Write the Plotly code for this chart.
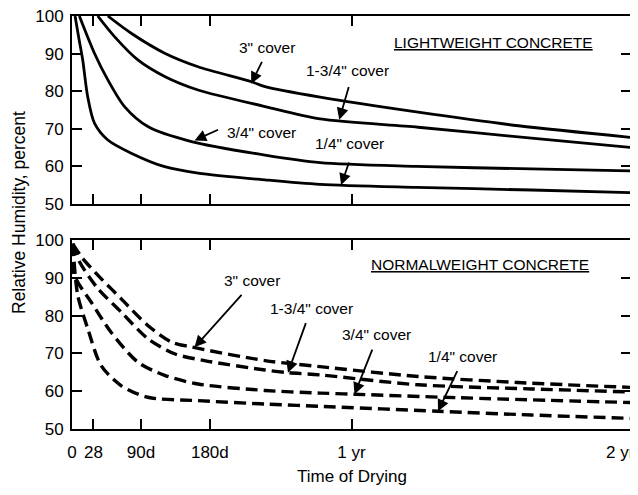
import plotly.graph_objects as go

# ---------------- data ----------------
tick_days = [0, 28, 90, 180, 365, 730]
tick_labels = ["0", "28", "90d", "180d", "1 yr", "2 yr"]
y_ticks = [50, 60, 70, 80, 90, 100]

# Lightweight concrete (solid)
lw_quarter_x = [4, 9, 14, 20.5, 29.3, 46.8, 77.3, 121, 164.6, 252, 324, 450, 600, 730]
lw_quarter_y = [100, 94, 88.3, 78.5, 71.5, 67, 63.5, 59.9, 58.2, 56.4, 55.2, 54.4, 53.7, 53]
lw_34_x = [9.6, 29.3, 46.8, 68.6, 99, 156, 252, 324, 450, 600, 730]
lw_34_y = [100, 90.1, 83, 75.9, 70.6, 66.6, 63, 61, 60, 59.3, 58.8]
lw_134_x = [33.6, 55.5, 86, 121, 164.6, 252, 324, 452, 600, 730]
lw_134_y = [100, 94.5, 88.3, 83.9, 80.3, 75.9, 72.6, 70.4, 67.5, 65]
lw_3_x = [46.8, 77.3, 121, 164.6, 234.5, 252, 324, 452, 583, 730]
lw_3_y = [100, 95.4, 90.1, 86.5, 82.5, 81.2, 78.4, 74.4, 70.8, 67.7]

# Normalweight concrete (dashed)
nw_quarter_x = [1, 7.5, 20.5, 38, 64, 99, 164.6, 252, 324, 478, 600, 730]
nw_quarter_y = [99, 85.4, 76.6, 66.8, 61.5, 58.4, 57.5, 56.6, 56, 54.7, 53.7, 52.8]
nw_34_x = [1, 3, 25, 51, 86, 121, 164.6, 252, 324, 369, 500, 730]
nw_34_y = [99, 90.7, 83.6, 75.6, 67.7, 64.2, 61.9, 60.2, 59.5, 59.2, 58.3, 57]
nw_134_x = [1, 10, 33.6, 64, 99, 134, 173, 252, 282, 324, 452, 600, 730]
nw_134_y = [99, 94.2, 87.2, 81, 73.9, 69.9, 68.1, 65.6, 64.9, 64.3, 61.7, 60.6, 59.8]
nw_3_x = [1, 14, 38, 64, 99, 130, 156, 252, 324, 452, 582, 730]
nw_3_y = [99, 95.1, 89.8, 84.5, 77.4, 73, 71.7, 68.1, 66.5, 63.9, 62.3, 61]

# ---------------- figure ----------------
fig = go.Figure()

solid = dict(color="black", width=2.8, shape="spline", smoothing=0.8)
dashed = dict(color="black", width=3.4, shape="spline", smoothing=0.8, dash="12px,6px")

for xs, ys in [(lw_quarter_x, lw_quarter_y), (lw_34_x, lw_34_y),
               (lw_134_x, lw_134_y), (lw_3_x, lw_3_y)]:
    fig.add_trace(go.Scatter(x=xs, y=ys, mode="lines", line=solid,
                             xaxis="x", yaxis="y", showlegend=False, cliponaxis=True))
for xs, ys in [(nw_quarter_x, nw_quarter_y), (nw_34_x, nw_34_y),
               (nw_134_x, nw_134_y), (nw_3_x, nw_3_y)]:
    fig.add_trace(go.Scatter(x=xs, y=ys, mode="lines", line=dashed,
                             xaxis="x2", yaxis="y2", showlegend=False, cliponaxis=True))

FONT = "Liberation Sans, Arial, Helvetica, sans-serif"

xaxis_common = dict(range=[0, 730], tickmode="array", tickvals=tick_days,
                    ticks="inside", ticklen=10, tickwidth=1.5, tickcolor="black",
                    showline=True, linecolor="black", linewidth=2, mirror="ticks",
                    showgrid=False, zeroline=False, automargin=False,
                    ticklabeloverflow="allow",
                    tickfont=dict(family=FONT, size=17, color="black"))
yaxis_common = dict(range=[50, 100], tickmode="array", tickvals=y_ticks,
                    ticks="inside", ticklen=10, tickwidth=1.5, tickcolor="black",
                    showline=True, linecolor="black", linewidth=2, mirror="ticks",
                    showgrid=False, zeroline=False, automargin=False,
                    ticklabelstandoff=3, ticklabeloverflow="allow",
                    tickfont=dict(family=FONT, size=17, color="black"))

# the last x tick label sits at the right page edge; it is drawn as an
# annotation so it can be nudged left of its tick
bottom_ticktext = tick_labels[:-1] + [""]

# page body has an 8px default margin: the figure is offset to compensate
fig.update_layout(
    width=630, height=479,
    margin=dict(l=64, r=7, t=8, b=58),
    paper_bgcolor="white", plot_bgcolor="white",
    font=dict(family=FONT, size=16, color="black"),
    xaxis=dict(**xaxis_common, anchor="y", showticklabels=False),
    yaxis=dict(**yaxis_common, domain=[0.545, 1.0], anchor="x"),
    xaxis2=dict(**xaxis_common, anchor="y2", ticktext=bottom_ticktext,
                ticklabelstandoff=7),
    yaxis2=dict(**yaxis_common, domain=[0.0, 0.4576], anchor="x2"),
)

anns = []
anns.append(dict(text=tick_labels[-1], xref="x2", yref="y2", x=tick_days[-1], y=50,
                 xanchor="center", yanchor="middle", xshift=-11, yshift=-23,
                 showarrow=False, font=dict(size=17)))
# Titles
anns.append(dict(text="Time of Drying", xref="paper", yref="paper", x=0.5, y=-0.116,
                 xanchor="center", yanchor="middle", showarrow=False,
                 font=dict(size=17)))
anns.append(dict(text="Relative Humidity, percent", xref="paper", yref="paper",
                 x=-0.0948, y=0.523, xanchor="center", yanchor="middle",
                 textangle=-90, showarrow=False, font=dict(size=17.5)))
# Panel labels
anns.append(dict(text="<u>LIGHTWEIGHT CONCRETE</u>", xref="x", yref="y", x=683, y=92.9,
                 xanchor="right", yanchor="middle", showarrow=False, font=dict(size=15.5)))
anns.append(dict(text="<u>NORMALWEIGHT CONCRETE</u>", xref="x2", yref="y2", x=678, y=93.4,
                 xanchor="right", yanchor="middle", showarrow=False, font=dict(size=15.5)))

# Curve labels: (text, text x, text y, head x, head y, tail x, tail y, axes)
labels = [
    ('3" cover', 254, 91.7, 234, 82.0, 249, 88.2, "x", "y"),
    ('1-3/4" cover', 360, 85.5, 349, 72.4, 362, 81.5, "x", "y"),
    ('3/4" cover', 247.6, 69.0, 160, 66.9, 192.7, 69.9, "x", "y"),
    ('1/4" cover', 362.7, 66.0, 351.4, 55.0, 362.4, 61.4, "x", "y"),
    ('3" cover', 235.2, 89.4, 160, 71.6, 223.2, 85.9, "x2", "y2"),
    ('1-3/4" cover', 312.4, 82.0, 282, 64.9, 306.1, 78.4, "x2", "y2"),
    ('3/4" cover', 397, 74.9, 369, 59.2, 392.9, 71.4, "x2", "y2"),
    ('1/4" cover', 510.6, 69.2, 478, 54.7, 504, 65.7, "x2", "y2"),
]
for t, tx, ty, hx, hy, ax_, ay_, xr, yr in labels:
    anns.append(dict(text=t, xref=xr, yref=yr, x=tx, y=ty, xanchor="center",
                     yanchor="middle", showarrow=False, font=dict(size=15.5)))
    anns.append(dict(text="", xref=xr, yref=yr, x=hx, y=hy, axref=xr, ayref=yr,
                     ax=ax_, ay=ay_, showarrow=True, arrowhead=2, arrowsize=1.3,
                     arrowwidth=1.8, arrowcolor="black", standoff=0))

fig.update_layout(annotations=anns)

fig.write_html("out.html")
